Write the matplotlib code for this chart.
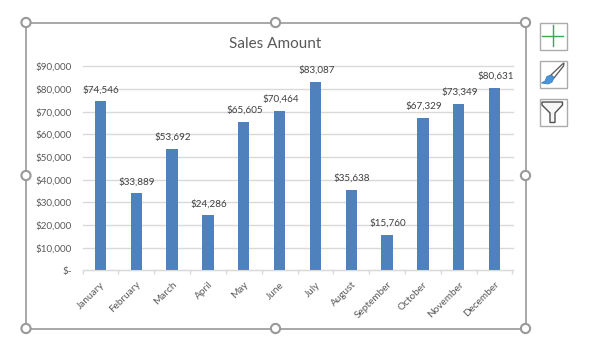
import matplotlib
matplotlib.use('Agg')
import matplotlib.pyplot as plt
from matplotlib.patches import Rectangle, Circle, Polygon

months = ['January', 'February', 'March', 'April', 'May', 'June', 'July',
          'August', 'September', 'October', 'November', 'December']
sales = [74546, 33889, 53692, 24286, 65605, 70464, 83087,
         35638, 15760, 67329, 73349, 80631]
y_ticks = [0, 10000, 20000, 30000, 40000, 50000, 60000, 70000, 80000, 90000]
y_labels = ['$-', '$10,000', '$20,000', '$30,000', '$40,000',
            '$50,000', '$60,000', '$70,000', '$80,000', '$90,000']

W, H = 607, 351
plt.rcParams['font.family'] = ['Lato', 'DejaVu Sans']

fig = plt.figure(figsize=(W / 100, H / 100), dpi=100)

# overlay in pixel coordinates for the selection frame and the buttons
ui = fig.add_axes([0, 0, 1, 1])
ui.set_xlim(0, W)
ui.set_ylim(H, 0)
ui.axis('off')

ui.add_patch(Rectangle((26, 22.5), 499.5, 306, fill=False, ec='#a0a0a0', lw=1.3))
for hx in (26, 275.5, 525.5):
    for hy in (22.5, 175.5, 328.5):
        if hx == 275.5 and hy == 175.5:
            continue
        ui.add_patch(Circle((hx, hy), 4.6, fc='white', ec='#999999', lw=1.5, zorder=3))

for by in (22.5, 60.5, 98.5):
    ui.add_patch(Rectangle((539.5, by), 27, 27, fc='white', ec='#ababab', lw=1))
# plus button
ui.plot([542, 563], [35.5, 35.5], color='#3fa652', lw=1)
ui.plot([552.5, 552.5], [25, 46], color='#3fa652', lw=1)
# brush button
ui.add_patch(Polygon([(551, 75), (562, 64.5), (564, 63), (563.5, 66), (554, 78)],
                     fc='white', ec='#606060', lw=1))
ui.add_patch(Polygon([(541.5, 83), (545, 81), (547, 76.5), (551, 75), (554, 78),
                      (552, 82), (548, 84)], fc='#4a94d8', ec='#3a7fc0', lw=0.6))
# filter button
ui.add_patch(Polygon([(542, 102), (562.5, 102), (562.5, 105), (555, 113), (555, 122.5),
                      (550, 122.5), (550, 113), (542, 105)],
                     fc='#f6f6f6', ec='#505050', lw=1))

ax = fig.add_axes([82.5 / W, 1 - 270.3 / H, 430 / W, 204 / H])
ax.set_xlim(-0.5, 11.5)
ax.set_ylim(0, 90000)
ax.patch.set_alpha(0)
bars = ax.bar(range(12), sales, width=0.32, color='#4f81bd', zorder=2)
ax.set_yticks(y_ticks)
ax.set_yticklabels(y_labels, fontsize=7.1, color='#595959')
ax.set_xticks(range(12))
ax.set_xticklabels(months, fontsize=7.2, color='#595959', rotation=45,
                   ha='right', rotation_mode='anchor')
ax.grid(axis='y', color='#d9d9d9', lw=1, zorder=0, clip_on=False)
for s in ('top', 'left', 'right'):
    ax.spines[s].set_visible(False)
ax.spines['bottom'].set_color('#d9d9d9')
ax.tick_params(axis='y', length=0, pad=8)
ax.tick_params(axis='x', length=0, pad=7)
# ticks sit between the categories
ax.set_xticks([i - 0.5 for i in range(13)], minor=True)
ax.tick_params(axis='x', which='minor', length=3, color='#d9d9d9', width=1)

for i, v in enumerate(sales):
    ax.annotate('${:,}'.format(v), (i, v), xytext=(0.6, 5), textcoords='offset points',
                ha='center', va='bottom', fontsize=7.1, color='#404040')

ui.text(275.5, 44, 'Sales Amount', fontsize=11, color='#595959', ha='center', va='center')

fig.savefig('out.png', dpi=100)
